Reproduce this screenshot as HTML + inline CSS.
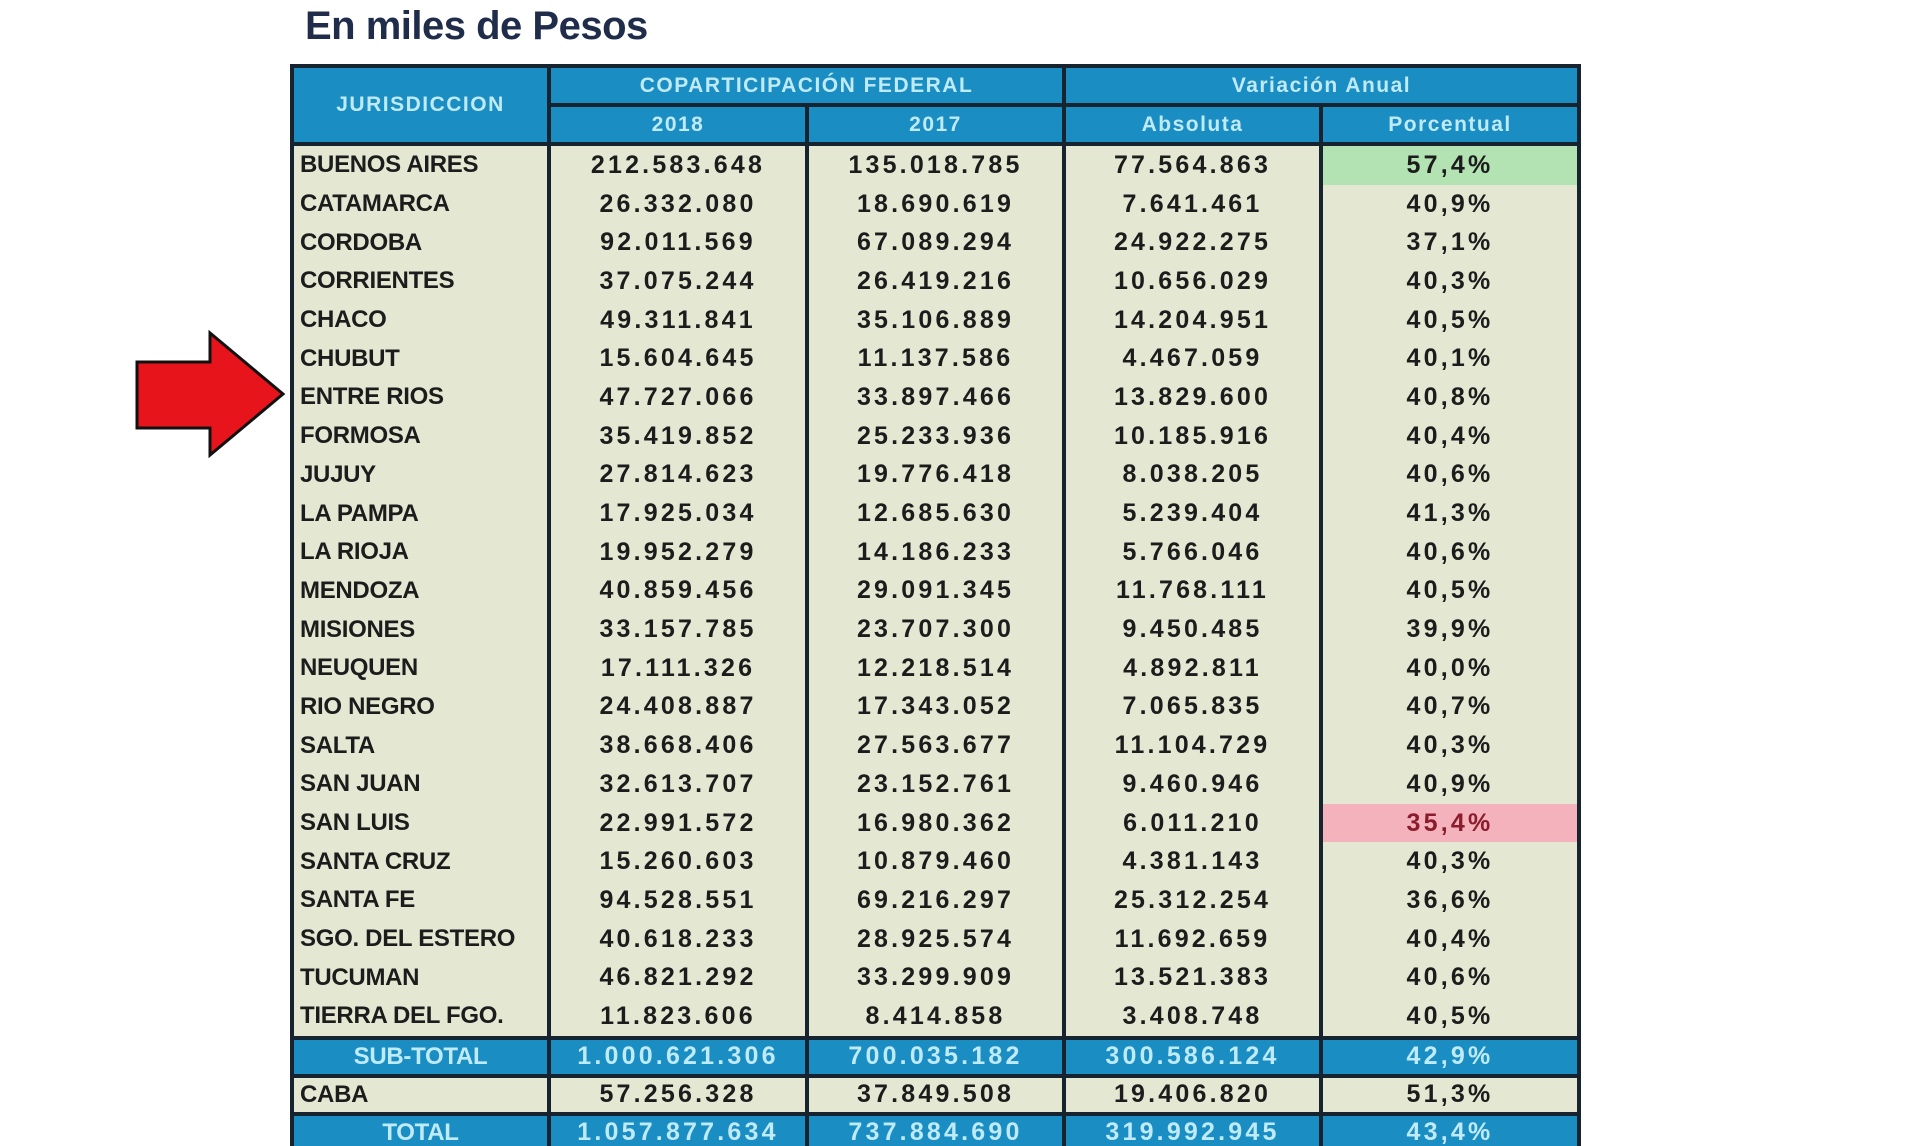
<!DOCTYPE html>
<html><head><meta charset="utf-8"><style>
html,body{margin:0;padding:0;background:#fff;width:1920px;height:1146px;overflow:hidden;position:relative;font-family:"Liberation Sans",sans-serif;}
.title{position:absolute;left:305px;top:4px;font-size:40px;font-weight:bold;color:#1f2d4a;letter-spacing:-0.5px;}
table{position:absolute;left:290px;top:64px;width:1287px;border-collapse:collapse;table-layout:fixed;}
td,th{padding:0;font-weight:bold;white-space:nowrap;overflow:hidden;}
th{background:#1a8dc2;color:#bfeaf7;font-size:21px;letter-spacing:1.5px;border:4px solid #17232e;height:35px;}
td{background:#e4e8d3;color:#1c1c1c;font-size:25px;letter-spacing:3.2px;text-align:center;height:38.7px;border-left:4px solid #17232e;border-right:4px solid #17232e;}
td.n{text-align:left;letter-spacing:-0.3px;padding-left:6px;font-size:24px;}
tr.b td{background:#1a8dc2;color:#bfeaf7;border:4px solid #17232e;height:34px;}
tr.b td.n{text-align:center;padding-left:0;}
tr.c td{border-top:4px solid #17232e;border-bottom:4px solid #17232e;height:34px;}
td.g{background:#b3e3b3;}
td.r{background:#f4b3bc;color:#8a1c2c;}
</style></head><body>
<div class="title">En miles de Pesos</div>
<svg style="position:absolute;left:0;top:0" width="300" height="470"><polygon points="137,362 210,362 210,333 283,394 210,455 210,428 137,428" fill="#e8141c" stroke="#111" stroke-width="3"/></svg>
<table>
<colgroup><col style="width:257px"><col style="width:258px"><col style="width:257px"><col style="width:257px"><col style="width:258px"></colgroup>
<tr><th rowspan="2">JURISDICCION</th><th colspan="2">COPARTICIPACIÓN FEDERAL</th><th colspan="2">Variación Anual</th></tr>
<tr><th>2018</th><th>2017</th><th>Absoluta</th><th>Porcentual</th></tr>
<tr><td class="n">BUENOS AIRES</td><td>212.583.648</td><td>135.018.785</td><td>77.564.863</td><td class="g">57,4%</td></tr>
<tr><td class="n">CATAMARCA</td><td>26.332.080</td><td>18.690.619</td><td>7.641.461</td><td>40,9%</td></tr>
<tr><td class="n">CORDOBA</td><td>92.011.569</td><td>67.089.294</td><td>24.922.275</td><td>37,1%</td></tr>
<tr><td class="n">CORRIENTES</td><td>37.075.244</td><td>26.419.216</td><td>10.656.029</td><td>40,3%</td></tr>
<tr><td class="n">CHACO</td><td>49.311.841</td><td>35.106.889</td><td>14.204.951</td><td>40,5%</td></tr>
<tr><td class="n">CHUBUT</td><td>15.604.645</td><td>11.137.586</td><td>4.467.059</td><td>40,1%</td></tr>
<tr><td class="n">ENTRE RIOS</td><td>47.727.066</td><td>33.897.466</td><td>13.829.600</td><td>40,8%</td></tr>
<tr><td class="n">FORMOSA</td><td>35.419.852</td><td>25.233.936</td><td>10.185.916</td><td>40,4%</td></tr>
<tr><td class="n">JUJUY</td><td>27.814.623</td><td>19.776.418</td><td>8.038.205</td><td>40,6%</td></tr>
<tr><td class="n">LA PAMPA</td><td>17.925.034</td><td>12.685.630</td><td>5.239.404</td><td>41,3%</td></tr>
<tr><td class="n">LA RIOJA</td><td>19.952.279</td><td>14.186.233</td><td>5.766.046</td><td>40,6%</td></tr>
<tr><td class="n">MENDOZA</td><td>40.859.456</td><td>29.091.345</td><td>11.768.111</td><td>40,5%</td></tr>
<tr><td class="n">MISIONES</td><td>33.157.785</td><td>23.707.300</td><td>9.450.485</td><td>39,9%</td></tr>
<tr><td class="n">NEUQUEN</td><td>17.111.326</td><td>12.218.514</td><td>4.892.811</td><td>40,0%</td></tr>
<tr><td class="n">RIO NEGRO</td><td>24.408.887</td><td>17.343.052</td><td>7.065.835</td><td>40,7%</td></tr>
<tr><td class="n">SALTA</td><td>38.668.406</td><td>27.563.677</td><td>11.104.729</td><td>40,3%</td></tr>
<tr><td class="n">SAN JUAN</td><td>32.613.707</td><td>23.152.761</td><td>9.460.946</td><td>40,9%</td></tr>
<tr><td class="n">SAN LUIS</td><td>22.991.572</td><td>16.980.362</td><td>6.011.210</td><td class="r">35,4%</td></tr>
<tr><td class="n">SANTA CRUZ</td><td>15.260.603</td><td>10.879.460</td><td>4.381.143</td><td>40,3%</td></tr>
<tr><td class="n">SANTA FE</td><td>94.528.551</td><td>69.216.297</td><td>25.312.254</td><td>36,6%</td></tr>
<tr><td class="n">SGO. DEL ESTERO</td><td>40.618.233</td><td>28.925.574</td><td>11.692.659</td><td>40,4%</td></tr>
<tr><td class="n">TUCUMAN</td><td>46.821.292</td><td>33.299.909</td><td>13.521.383</td><td>40,6%</td></tr>
<tr><td class="n">TIERRA DEL FGO.</td><td>11.823.606</td><td>8.414.858</td><td>3.408.748</td><td>40,5%</td></tr>
<tr class="b"><td class="n">SUB-TOTAL</td><td>1.000.621.306</td><td>700.035.182</td><td>300.586.124</td><td>42,9%</td></tr>
<tr class="c"><td class="n">CABA</td><td>57.256.328</td><td>37.849.508</td><td>19.406.820</td><td>51,3%</td></tr>
<tr class="b"><td class="n">TOTAL</td><td>1.057.877.634</td><td>737.884.690</td><td>319.992.945</td><td>43,4%</td></tr>
</table>
</body></html>
